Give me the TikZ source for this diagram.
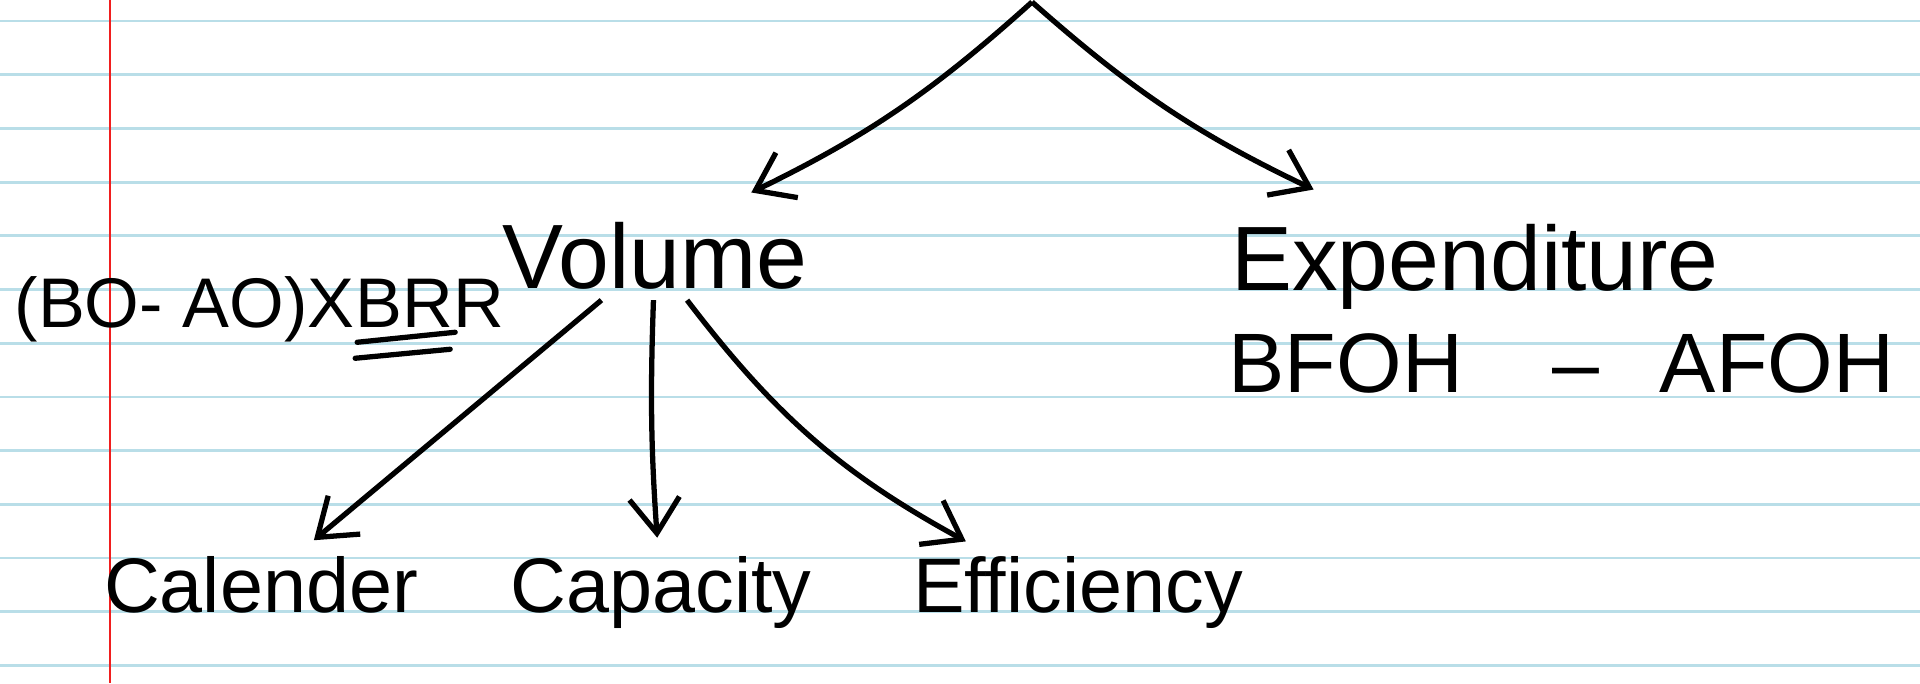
\documentclass[tikz,border=0pt]{standalone}
\usepackage{fontspec}
\setmainfont{Liberation Sans}
\usepackage{tikz}
\usetikzlibrary{arrows.meta,positioning}

\definecolor{ruleblue}{RGB}{185,222,232}
\definecolor{marginred}{RGB}{240,30,30}

\begin{document}
\begin{tikzpicture}[
    word/.style={font=\fontsize{22}{26}\selectfont, inner sep=3pt},
    bigword/.style={font=\fontsize{26}{30}\selectfont, inner sep=3pt},
    smallword/.style={font=\fontsize{20}{24}\selectfont, inner sep=3pt},
    formula/.style={font=\fontsize{24}{28}\selectfont, inner sep=3pt},
    arrow/.style={-{Straight Barb[length=3.5mm,width=5mm]}, line width=1.5pt, shorten >=2pt},
    ink/.style={line width=1.5pt, line cap=round},
    paperline/.style={ruleblue, line width=0.8pt}
]

% paper
\useasboundingbox (0,0) rectangle (19.2,-6.83);
\fill[white] (0,0) rectangle (19.2,-6.83);
\foreach \yy in {0.21,0.747,1.284,1.821,2.358,2.895,3.432,3.969,4.506,5.043,5.58,6.117,6.654}
    \draw[paperline] (0,-\yy) -- (19.2,-\yy);
\draw[marginred, line width=0.4pt] (1.10,0) -- (1.10,-6.83);

% nodes
\coordinate (root) at (10.32,-0.02);
\node[bigword, anchor=base] (volume) at (6.55,-2.88) {Volume};
\node[bigword, anchor=base] (expend) at (14.75,-2.90) {Expenditure};
\node[smallword, anchor=base west, inner xsep=0pt] (bracket) at (0.14,-3.27) {(BO- AO)X};
\node[smallword, anchor=base west, inner xsep=0pt] (brr) at (bracket.base east) {BRR};
\node[formula, anchor=base west, inner xsep=0pt] (foh) at (12.28,-3.92) {BFOH\hspace{0.9cm}–\hspace{0.6cm}AFOH};
\node[word, anchor=base] (calender) at (2.61,-6.12) {Calender};
\node[word, anchor=base] (capacity) at (6.61,-6.12) {Capacity};
\node[word, anchor=base] (efficiency) at (10.78,-6.12) {Efficiency};

% double underline of BRR
\draw[ink] ([xshift=0.02cm,yshift=-0.04cm]brr.south west) -- ([xshift=1.0cm,yshift=0.06cm]brr.south west);
\draw[ink] ([yshift=-0.2cm]brr.south west) -- ([xshift=0.95cm,yshift=-0.11cm]brr.south west);

% arrows
\draw[arrow] (root) to[bend left=8] ([xshift=0.9cm,yshift=0.15cm]volume.north);
\draw[arrow] (root) to[bend right=8] ([xshift=1cm,yshift=0.2cm]expend.north west);
\draw[arrow] (volume) to (calender);
\draw[arrow] (volume) to[bend right=3] (capacity);
\draw[arrow] (volume) to[bend right=12] ([xshift=0.7cm]efficiency.north west);

\end{tikzpicture}
\end{document}
